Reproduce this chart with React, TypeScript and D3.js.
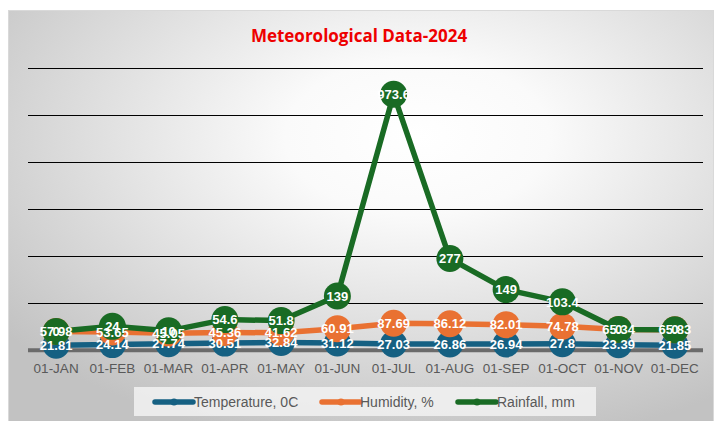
import React from 'react';
import * as d3 from 'd3';

const months = ['01-JAN', '01-FEB', '01-MAR', '01-APR', '01-MAY', '01-JUN', '01-JUL', '01-AUG', '01-SEP', '01-OCT', '01-NOV', '01-DEC'];
const temperature = [21.81, 24.14, 27.74, 30.51, 32.84, 31.12, 27.03, 26.86, 26.94, 27.8, 23.39, 21.85];
const humidity = [57.98, 53.65, 45.05, 45.36, 41.62, 60.91, 87.69, 86.12, 82.01, 74.78, 65.34, 65.83];
const rainfall = [0, 24, 10, 54.6, 51.8, 139, 973.6, 277, 149, 103.4, 0, 0];
const seriesNames = ['Temperature, 0C', 'Humidity, %', 'Rainfall, mm'];
const seriesColors = ['#156082', '#E97132', '#196B24'];
const yTicks = [200, 400, 600, 800, 1000, 1200];
const title = 'Meteorological Data-2024';

const FONT = '"Liberation Sans", Arial, sans-serif';
const TITLE_FONT = '"Open Sans", "Noto Sans", sans-serif';

export default function App() {
  const W = 715, H = 421;
  const plotL = 28, plotR = 703;
  const x = d3.scaleBand<string>().domain(months).range([plotL, plotR]);
  const cx = (m: string) => (x(m) as number) + x.bandwidth() / 2;
  const y = d3.scaleLinear().domain([0, 1200]).range([350.3, 68]);

  const rows = months.map((m, i) => ({ m, t: temperature[i], h: humidity[i], r: rainfall[i] }));
  const stacked = d3.stack<any>().keys(['t', 'h', 'r'])(rows);
  const raw = [temperature, humidity, rainfall];

  const line = d3.line<[number, number]>().x(d => d[0]).y(d => d[1]);

  const legendItems = [
    { x: 155, tx: 194 },
    { x: 322, tx: 360 },
    { x: 458, tx: 497 },
  ];

  return (
    <svg width={W} height={H} style={{ position: 'fixed', left: 0, top: 0 }} fontFamily={FONT}>
      <defs>
        <radialGradient id="bg" cx="0.58" cy="0.3" r="0.75" gradientUnits="objectBoundingBox">
          <stop offset="0" stopColor="#ffffff" />
          <stop offset="0.25" stopColor="#fafafa" />
          <stop offset="1" stopColor="#c2c2c2" />
        </radialGradient>
      </defs>
      <rect x={0} y={0} width={W} height={H} fill="#ffffff" />
      <rect x={8.5} y={10.5} width={705} height={420} fill="url(#bg)" stroke="#d9d9d9" strokeWidth={1} />
      <text x={359} y={42} textAnchor="middle" fill="#ee0000" fontWeight="bold" fontSize={17} fontFamily={TITLE_FONT}>{title}</text>
      {yTicks.map(t => (
        <line key={t} x1={plotL} x2={plotR} y1={Math.round(y(t)) + 0.5} y2={Math.round(y(t)) + 0.5} stroke="#000" strokeWidth={1} />
      ))}
      <line x1={plotL} x2={plotR} y1={y(0)} y2={y(0)} stroke="#6b6b6b" strokeWidth={4} />
      {months.map(m => (
        <text key={m} x={cx(m)} y={373} textAnchor="middle" fill="#595959" fontSize={13.5}>{m}</text>
      ))}
      {stacked.map((s, si) => {
        const pts: [number, number][] = s.map((d, i) => [cx(months[i]), y(d[1])]);
        return (
          <g key={si}>
            <path d={line(pts) as string} fill="none" stroke={seriesColors[si]} strokeWidth={5.5} strokeLinejoin="round" />
            {pts.map((p, i) => (
              <circle key={i} cx={p[0]} cy={p[1]} r={13.5} fill={seriesColors[si]} />
            ))}
          </g>
        );
      })}
      {stacked.map((s, si) => (
        <g key={'l' + si}>
          {s.map((d, i) => (
            <text key={i} x={cx(months[i])} y={y(d[1])} dy="0.36em" textAnchor="middle" fill="#ffffff" fontWeight="bold" fontSize={13}>
              {String(raw[si][i])}
            </text>
          ))}
        </g>
      ))}
      <rect x={134} y={387} width={462} height={29} fill="#f2f2f2" opacity={0.85} />
      {legendItems.map((it, i) => (
        <g key={i}>
          <line x1={it.x} x2={it.x + 38} y1={402} y2={402} stroke={seriesColors[i]} strokeWidth={5.5} strokeLinecap="round" />
          <circle cx={it.x + 19} cy={402} r={3.5} fill={seriesColors[i]} />
          <text x={it.tx} y={402} dy="0.36em" fill="#595959" fontSize={14}>{seriesNames[i]}</text>
        </g>
      ))}
    </svg>
  );
}
